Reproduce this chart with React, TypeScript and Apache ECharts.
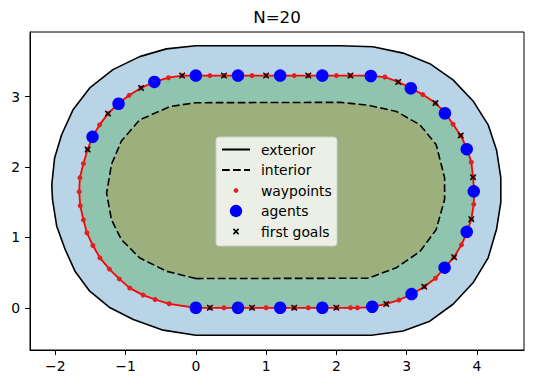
import React, { useEffect, useRef } from "react";
import * as echarts from "echarts";

const FONT = "DejaVu Sans";

const xTicks = [-2, -1, 0, 1, 2, 3, 4];
const yTicks = [0, 1, 2, 3];

const waypoints: number[][] = [
  [0, 0], [0.2, 0], [0.4, 0], [0.6, 0], [0.8, 0], [1.0, 0], [1.2, 0], [1.4, 0], [1.6, 0], [1.8, 0],
  [2.0, 0], [2.2, 0], [2.3, 0], [2.5, 0.01], [2.71, 0.055], [2.89, 0.11], [3.07, 0.19], [3.25, 0.3],
  [3.41, 0.42], [3.54, 0.57], [3.675, 0.72], [3.78, 0.895], [3.86, 1.08], [3.92, 1.26], [3.955, 1.47],
  [3.96, 1.66], [3.945, 1.855], [3.92, 2.07], [3.86, 2.26], [3.77, 2.45], [3.66, 2.61], [3.55, 2.77],
  [3.41, 2.91], [3.23, 3.03], [3.06, 3.125], [2.88, 3.21], [2.69, 3.28], [2.47, 3.3], [2.2, 3.3],
  [2.0, 3.3], [1.8, 3.3], [1.6, 3.3], [1.4, 3.3], [1.2, 3.3], [1.0, 3.3], [0.8, 3.3], [0.6, 3.3],
  [0.4, 3.3], [0.2, 3.3], [0, 3.3], [-0.195, 3.3], [-0.39, 3.27], [-0.59, 3.21], [-0.78, 3.125],
  [-0.95, 3.02], [-1.105, 2.9], [-1.25, 2.76], [-1.37, 2.6], [-1.47, 2.43], [-1.54, 2.25], [-1.6, 2.05],
  [-1.65, 1.85], [-1.66, 1.65], [-1.645, 1.45], [-1.6, 1.25], [-1.55, 1.065], [-1.465, 0.885],
  [-1.365, 0.71], [-1.23, 0.55], [-1.09, 0.41], [-0.94, 0.28], [-0.75, 0.18], [-0.58, 0.118], [-0.38, 0.057],
];

const agents: number[][] = [
  [0, 0], [0.6, 0], [1.2, 0], [1.8, 0], [2.51, 0.015], [3.07, 0.195], [3.54, 0.57], [3.855, 1.08],
  [3.955, 1.655], [3.855, 2.255], [3.545, 2.765], [3.06, 3.12], [2.49, 3.295], [1.8, 3.3], [1.2, 3.3],
  [0.6, 3.3], [0, 3.3], [-0.59, 3.21], [-1.1, 2.9], [-1.47, 2.43],
];

const firstGoals: number[][] = [
  [0.2, 0], [0.8, 0], [1.4, 0], [2.0, 0], [2.71, 0.055], [3.25, 0.3], [3.675, 0.72], [3.92, 1.26],
  [3.945, 1.855], [3.77, 2.45], [3.41, 2.91], [2.88, 3.21], [2.2, 3.3], [1.6, 3.3], [1.0, 3.3],
  [0.4, 3.3], [-0.195, 3.3], [-0.78, 3.125], [-1.25, 2.76], [-1.54, 2.25],
];

const exterior: number[][] = [
  [0, -0.39], [2.5, -0.39], [2.95, -0.33], [3.33, -0.19], [3.66, 0.05], [3.945, 0.355], [4.16, 0.71],
  [4.28, 1.12], [4.34, 1.5], [4.34, 1.85], [4.28, 2.24], [4.16, 2.6], [3.945, 2.94], [3.66, 3.24],
  [3.33, 3.47], [2.95, 3.62], [2.52, 3.71], [2.05, 3.725], [0, 3.725], [-0.42, 3.68], [-0.8, 3.57],
  [-1.18, 3.385], [-1.51, 3.125], [-1.745, 2.82], [-1.91, 2.46], [-2.01, 2.13], [-2.05, 1.75],
  [-2.04, 1.54], [-1.98, 1.16], [-1.86, 0.83], [-1.72, 0.52], [-1.51, 0.236], [-1.22, 0],
  [-0.89, -0.166], [-0.465, -0.318],
];

const interior: number[][] = [
  [0, 0.415], [2.45, 0.42], [2.855, 0.57], [3.19, 0.8], [3.42, 1.11], [3.54, 1.54], [3.54, 1.85],
  [3.42, 2.32], [3.19, 2.6], [2.855, 2.79], [2.45, 2.88], [2.05, 2.92], [0, 2.915], [-0.37, 2.86],
  [-0.8, 2.67], [-1.06, 2.37], [-1.2, 2.04], [-1.27, 1.63], [-1.2, 1.25], [-1.06, 0.97], [-0.8, 0.71],
  [-0.42, 0.52],
];

const legendLabels = ["exterior", "interior", "waypoints", "agents", "first goals"];

const X_PATH =
  "path://M-1,-0.7 L-0.7,-1 L0,-0.3 L0.7,-1 L1,-0.7 L0.3,0 L1,0.7 L0.7,1 L0,0.3 L-0.7,1 L-1,0.7 L-0.3,0 Z";

function polygonSeries(name: string, pts: number[][], fill: string, z: number) {
  return {
    type: "custom",
    name,
    data: pts,
    z,
    silent: true,
    encode: { x: 0, y: 1 },
    renderItem: (params: any, api: any) => {
      if (params.dataIndex !== 0) return null;
      const points = pts.map((p) => api.coord(p));
      return { type: "polygon", shape: { points }, style: { fill } };
    },
  };
}

export default function App() {
  const ref = useRef<HTMLDivElement>(null);
  useEffect(() => {
    const chart = echarts.init(ref.current as HTMLDivElement, null, { renderer: "svg" });
    const fmt = (v: number) => String(v).replace("-", "\u2212");
    const legendX = 216;
    const legendY = 137;
    const rowY = [149.5, 170, 190.5, 211, 231.5];
    const mx = 236;
    const legendEls: any[] = [
      {
        type: "rect",
        shape: { x: legendX, y: legendY, width: 121, height: 109, r: 3 },
        style: { fill: "rgba(255,255,255,0.8)", stroke: "#cccccc", lineWidth: 1 },
        z: 100,
      },
      {
        type: "line",
        shape: { x1: 222, y1: rowY[0], x2: 250, y2: rowY[0] },
        style: { stroke: "#000", lineWidth: 2 },
        z: 101,
      },
      {
        type: "line",
        shape: { x1: 222, y1: rowY[1], x2: 250, y2: rowY[1] },
        style: { stroke: "#000", lineWidth: 2, lineDash: [7.7, 3.3] },
        z: 101,
      },
      { type: "circle", shape: { cx: mx, cy: rowY[2], r: 2.4 }, style: { fill: "#d62728" }, z: 101 },
      { type: "circle", shape: { cx: mx, cy: rowY[3], r: 6.2 }, style: { fill: "#0000ff" }, z: 101 },
      {
        type: "line",
        shape: { x1: mx - 2.6, y1: rowY[4] - 2.6, x2: mx + 2.6, y2: rowY[4] + 2.6 },
        style: { stroke: "#000", lineWidth: 1.5 },
        z: 101,
      },
      {
        type: "line",
        shape: { x1: mx - 2.6, y1: rowY[4] + 2.6, x2: mx + 2.6, y2: rowY[4] - 2.6 },
        style: { stroke: "#000", lineWidth: 1.5 },
        z: 101,
      },
      ...legendLabels.map((t, i) => ({
        type: "text",
        x: 261,
        y: rowY[i],
        z: 101,
        style: {
          text: t,
          fill: "#000",
          font: `13.9px "${FONT}"`,
          textAlign: "left",
          textVerticalAlign: "middle",
          verticalAlign: "middle",
        },
      })),
    ];

    const option: any = {
      animation: false,
      backgroundColor: "#ffffff",
      title: {
        text: "N=20",
        left: 277,
        top: 8,
        textAlign: "center",
        padding: 0,
        textStyle: { fontFamily: FONT, fontSize: 16.7, fontWeight: "normal", color: "#000" },
      },
      grid: {
        left: 30,
        top: 32,
        width: 494,
        height: 318,
        show: true,
        borderColor: "#000",
        borderWidth: 1,
        backgroundColor: "transparent",
      },
      xAxis: {
        type: "value",
        min: -2.36,
        max: 4.67,
        splitLine: { show: false },
        axisLine: { show: true, onZero: false, lineStyle: { color: "#000", width: 1 } },
        axisTick: { show: true, length: 5, customValues: xTicks, lineStyle: { color: "#000", width: 1 } },
        axisLabel: {
          customValues: xTicks,
          formatter: fmt,
          color: "#000",
          fontFamily: FONT,
          fontSize: 13.9,
          margin: 9,
        },
      },
      yAxis: {
        type: "value",
        min: -0.6,
        max: 3.92,
        splitLine: { show: false },
        axisLine: { show: true, onZero: false, lineStyle: { color: "#000", width: 1 } },
        axisTick: { show: true, length: 5, customValues: yTicks, lineStyle: { color: "#000", width: 1 } },
        axisLabel: {
          customValues: yTicks,
          formatter: fmt,
          color: "#000",
          fontFamily: FONT,
          fontSize: 13.9,
          margin: 10,
        },
      },
      graphic: legendEls,
      series: [
        polygonSeries("exteriorFill", exterior, "#b9d4e7", 1),
        polygonSeries("trackFill", waypoints, "#8fc4ae", 2),
        polygonSeries("interiorFill", interior, "#9cb07e", 3),
        {
          type: "line",
          name: "exterior",
          data: [...exterior, exterior[0]],
          symbol: "none",
          z: 4,
          silent: true,
          lineStyle: { color: "#000", width: 1.6 },
        },
        {
          type: "line",
          name: "interior",
          data: [...interior, interior[0]],
          symbol: "none",
          z: 4,
          silent: true,
          lineStyle: { color: "#000", width: 1.6, type: [7.7, 3.3] },
        },
        {
          type: "line",
          name: "path",
          data: [...waypoints, waypoints[0]],
          symbol: "none",
          z: 5,
          silent: true,
          lineStyle: { color: "#ff0000", width: 1.8 },
        },
        {
          type: "scatter",
          name: "waypoints",
          data: waypoints,
          symbol: "circle",
          symbolSize: 5,
          z: 6,
          silent: true,
          itemStyle: { color: "#e02020", opacity: 1 },
        },
        {
          type: "scatter",
          name: "first goals",
          data: firstGoals,
          symbol: X_PATH,
          symbolSize: 6.5,
          z: 7,
          silent: true,
          itemStyle: { color: "#000", opacity: 1 },
        },
        {
          type: "scatter",
          name: "agents",
          data: agents,
          symbol: "circle",
          symbolSize: 12.5,
          z: 8,
          silent: true,
          itemStyle: { color: "#0000ff", opacity: 1 },
        },
      ],
    };
    chart.setOption(option);
    return () => chart.dispose();
  }, []);
  return (
    <div
      ref={ref}
      style={{ position: "absolute", left: 0, top: 0, width: 534, height: 384 }}
    />
  );
}
